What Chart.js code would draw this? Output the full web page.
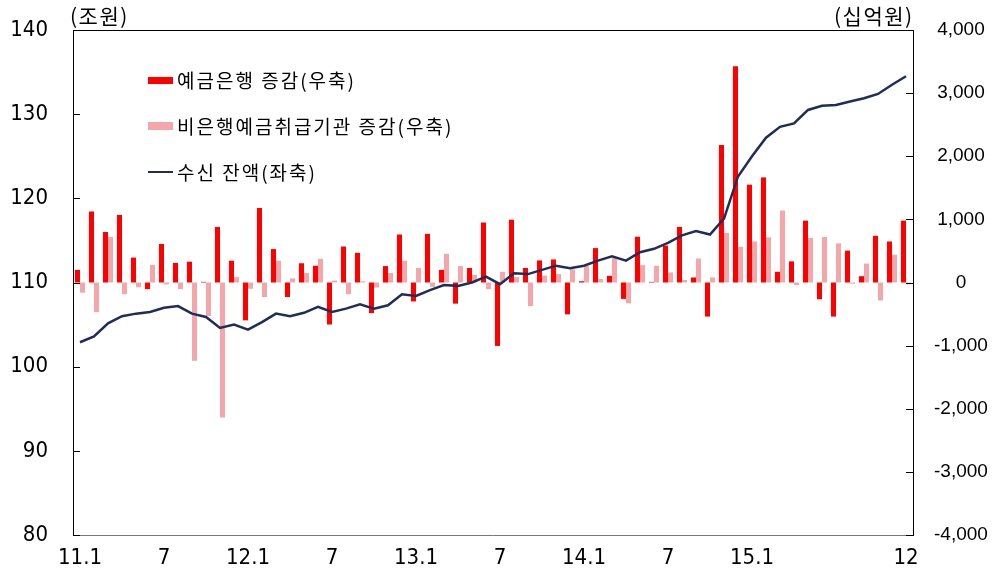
<!DOCTYPE html>
<html>
<head>
<meta charset="utf-8">
<script src="https://cdn.jsdelivr.net/npm/chart.js@4"></script>
<style>
  html, body { margin: 0; padding: 0; background: #fff; }
  #wrap { position: relative; width: 1006px; height: 569px; }
  canvas { position: absolute; left: 0; top: 0; }
  .txt { position: absolute; font-family: 'Noto Sans CJK KR', sans-serif; color: #000; white-space: nowrap; line-height: 1; }
  .unit { font-size: 21px; top: 5px; letter-spacing: 1.5px; }
  .leg { font-size: 19px; left: 177px; letter-spacing: 2px; }
  .mk { position: absolute; left: 148px; width: 25px; }
</style>
</head>
<body>
<div id="wrap">
  <canvas id="c" width="1006" height="569"></canvas>
  <div class="txt unit" style="left:70px;">(조원)</div>
  <div class="txt unit" style="left:834px;">(십억원)</div>
  <div class="mk" style="top:77px;height:7px;background:#FF0000;"></div>
  <div class="txt leg" style="top:70px;">예금은행 증감(우축)</div>
  <div class="mk" style="top:122px;height:8px;background:#F4A6AA;"></div>
  <div class="txt leg" style="top:116px;">비은행예금취급기관 증감(우축)</div>
  <div class="mk" style="top:171px;height:2px;background:#1F2D5A;"></div>
  <div class="txt leg" style="top:162px;">수신 잔액(좌축)</div>
</div>
<script>
// 2011.1 – 2015.12, monthly
const months = [
  '11.1','11.2','11.3','11.4','11.5','11.6','11.7','11.8','11.9','11.10','11.11','11.12',
  '12.1','12.2','12.3','12.4','12.5','12.6','12.7','12.8','12.9','12.10','12.11','12.12',
  '13.1','13.2','13.3','13.4','13.5','13.6','13.7','13.8','13.9','13.10','13.11','13.12',
  '14.1','14.2','14.3','14.4','14.5','14.6','14.7','14.8','14.9','14.10','14.11','14.12',
  '15.1','15.2','15.3','15.4','15.5','15.6','15.7','15.8','15.9','15.10','15.11','15.12'
];
const tickLabels = [
  '11.1','','','','','','7','','','','','',
  '12.1','','','','','','7','','','','','',
  '13.1','','','','','','7','','','','','',
  '14.1','','','','','','7','','','','','',
  '15.1','','','','','','','','','','','12'
];
// 예금은행 증감 (십억원, 우축)
const bankChange = [
  200, 1125, 800, 1070, 395, -105, 610, 310, 330, 10, 880, 345,
  -600, 1180, 530, -230, 305, 265, -665, 570, 470, -485, 260, 760,
  -300, 770, 200, -335, 230, 950, -1005, 995, 230, 350, 365, -505,
  20, 545, 105, -260, 725, 10, 585, 880, 80, -540, 2180, 3425,
  1550, 1665, 170, 335, 980, -265, -540, 505, 100, 740, 650, 980
];
// 비은행예금취급기관 증감 (십억원, 우축)
const nonBankChange = [
  -160, -470, 720, -185, -75, 280, -30, -105, -1240, -530, -2140, 85,
  -100, -230, 345, 65, 150, 375, 30, -185, 20, -80, 150, 345,
  230, -70, 455, 260, 120, -105, 170, 85, -375, 110, 135, 210,
  260, 55, 390, -330, 275, 265, 160, 40, 380, 80, 785, 565,
  650, 715, 1140, -40, 705, 720, 620, -20, 300, -285, 440, -30
];
// 수신 잔액 (조원, 좌축)
const balance = [
  102.9, 103.6, 105.15, 106.0, 106.3, 106.5, 107.0, 107.2, 106.3, 105.9, 104.6, 105.0,
  104.4, 105.3, 106.3, 106.0, 106.4, 107.1, 106.5, 106.9, 107.4, 106.9, 107.3, 108.6,
  108.4, 109.1, 109.7, 109.6, 110.0, 110.7, 109.8, 111.1, 111.0, 111.5, 112.0, 111.7,
  112.0, 112.6, 113.1, 112.6, 113.6, 114.0, 114.7, 115.6, 116.1, 115.7, 117.6, 122.6,
  125.0, 127.2, 128.5, 128.9, 130.5, 131.0, 131.1, 131.5, 131.9, 132.4, 133.5, 134.5
];
const leftTicks = { min: 80, max: 140, step: 10 };
const rightTicks = { min: -4000, max: 4000, step: 1000 };

const narrow = "'Liberation Sans Narrow', 'DejaVu Sans Condensed', 'Liberation Sans', sans-serif";
const regular = "'Liberation Sans', Arial, sans-serif";

const frame = {
  id: 'frame',
  afterDraw(chart) {
    const ctx = chart.ctx, a = chart.chartArea;
    ctx.save();
    ctx.strokeStyle = '#000';
    ctx.lineWidth = 1;
    ctx.beginPath();
    ctx.moveTo(a.left, a.top + 0.5); ctx.lineTo(a.right, a.top + 0.5);
    const yl = chart.scales.yL, yr = chart.scales.yR;
    yl.ticks.forEach(t => {
      const p = Math.round(yl.getPixelForValue(t.value)) + 0.5;
      ctx.moveTo(a.left, p); ctx.lineTo(a.left + 7, p);
    });
    yr.ticks.forEach(t => {
      const p = Math.round(yr.getPixelForValue(t.value)) + 0.5;
      ctx.moveTo(a.right - 7, p); ctx.lineTo(a.right, p);
    });
    ctx.stroke();
    ctx.restore();
  }
};

const fitY = w => s => { s.width = w; s.paddingTop = 0; s.paddingBottom = 0; };

new Chart(document.getElementById('c'), {
  data: {
    labels: months,
    datasets: [
      { type: 'line', label: '수신 잔액(좌축)', data: balance, yAxisID: 'yL',
        borderColor: '#1F2D5A', borderWidth: 2.5, pointRadius: 0, tension: 0, order: 0 },
      { type: 'bar', label: '예금은행 증감(우축)', data: bankChange, yAxisID: 'yR',
        backgroundColor: '#FF0000', categoryPercentage: 0.72, barPercentage: 1.0, order: 1 },
      { type: 'bar', label: '비은행예금취급기관 증감(우축)', data: nonBankChange, yAxisID: 'yR',
        backgroundColor: '#F4A6AA', categoryPercentage: 0.72, barPercentage: 1.0, order: 1 }
    ]
  },
  options: {
    responsive: false,
    animation: false,
    layout: { padding: { top: 30, left: 0, right: 0, bottom: 0 } },
    plugins: { legend: { display: false }, tooltip: { enabled: false } },
    scales: {
      x: {
        grid: { display: false, drawTicks: false },
        border: { display: true, color: '#777', width: 1 },
        ticks: { autoSkip: false, maxRotation: 0, minRotation: 0, padding: 10, color: '#000',
          font: { family: narrow, size: 22 },
          callback: (v, i) => tickLabels[i] },
        afterFit: s => { s.height = 34; s.paddingLeft = 0; s.paddingRight = 0; }
      },
      yL: {
        position: 'left', min: leftTicks.min, max: leftTicks.max,
        grid: { display: false, drawTicks: false },
        border: { display: true, color: '#000', width: 1 },
        ticks: { stepSize: leftTicks.step, padding: 25, color: '#000', font: { family: narrow, size: 22 } },
        afterFit: fitY(73)
      },
      yR: {
        position: 'right', min: rightTicks.min, max: rightTicks.max,
        grid: { display: false, drawTicks: false },
        border: { display: true, color: '#000', width: 1 },
        ticks: { stepSize: rightTicks.step, padding: 21, crossAlign: 'center', color: '#000',
          font: { family: regular, size: 19 },
          callback: v => v.toLocaleString('en-US') },
        afterFit: fitY(93)
      }
    }
  },
  plugins: [frame]
});
</script>
</body>
</html>
